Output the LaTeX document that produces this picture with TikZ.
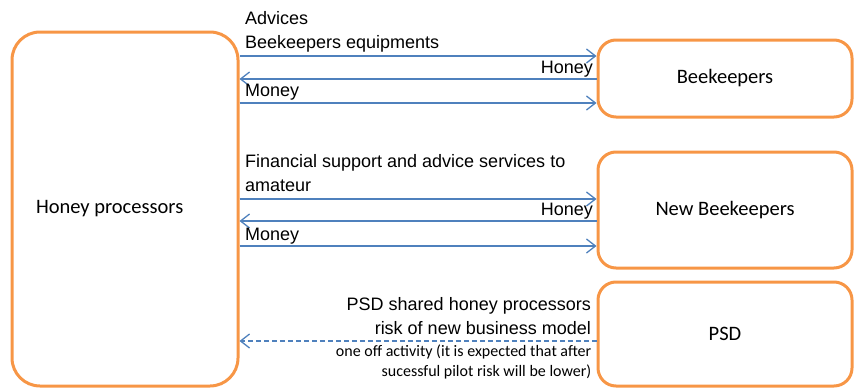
\documentclass[tikz,border=0pt]{standalone}
\usepackage{fontspec}
\setmainfont{Liberation Sans}
\newfontfamily\calibri{Carlito}
\usetikzlibrary{arrows.meta,positioning}

\definecolor{boxorange}{HTML}{F79646}
\definecolor{flowblue}{HTML}{4F81BD}

\begin{document}
\begin{tikzpicture}[x=1pt, y=-1pt,
    actor/.style={draw=boxorange, line width=3pt, rounded corners=18pt, font=\fontsize{20.5}{24}\calibri},
    flow/.style={draw=flowblue, line width=1.3pt, -{Straight Barb[length=9pt,width=14pt,line width=1.3pt]}},
    lbl/.style={font=\fontsize{18}{24}\selectfont, inner sep=0pt},
    note/.style={font=\fontsize{16}{20}\calibri, inner sep=0pt, align=right},
]
\useasboundingbox (0,0) rectangle (854,388);

% Actors
\node[actor, rounded corners=28pt, minimum width=226pt, minimum height=354pt] (proc) at (125,209) {\makebox[178pt][l]{Honey processors}};
\node[actor, minimum width=254pt, minimum height=77pt] (bk) at (725,78.5) {Beekeepers};
\node[actor, minimum width=254pt, minimum height=116pt] (nbk) at (725,210) {New Beekeepers};
\node[actor, minimum width=254pt, minimum height=104pt] (psd) at (725,334) {PSD};

% Beekeepers exchanges
\draw[flow] (proc.east |- 0,56) -- node[lbl, pos=0, anchor=south west, xshift=5pt, yshift=2.7pt, align=left] {Advices\\Beekeepers equipments} (bk.west |- 0,56);
\draw[flow] (bk.west |- 0,79) -- node[lbl, pos=0, anchor=south east, xshift=-3pt, yshift=0.8pt] {Honey} (proc.east |- 0,79);
\draw[flow] (proc.east |- 0,103) -- node[lbl, pos=0, anchor=south west, xshift=5pt, yshift=1.7pt] {Money} (bk.west |- 0,103);

% New beekeepers exchanges
\draw[flow] (proc.east |- 0,199) -- node[lbl, pos=0, anchor=south west, xshift=5pt, yshift=6.5pt, align=left] {Financial support and advice services to\\amateur} (nbk.west |- 0,199);
\draw[flow] (nbk.west |- 0,221) -- node[lbl, pos=0, anchor=south east, xshift=-3pt, yshift=0.8pt] {Honey} (proc.east |- 0,221);
\draw[flow] (proc.east |- 0,246) -- node[lbl, pos=0, anchor=south west, xshift=5pt, yshift=0.8pt] {Money} (nbk.west |- 0,246);

% PSD risk sharing
\draw[flow, dash pattern=on 5pt off 3pt] (psd.west |- 0,341) -- node[lbl, pos=0, anchor=south east, xshift=-5pt, yshift=5.5pt, align=right] {PSD shared honey processors\\risk of new business model} (proc.east |- 0,341);
\node[note, anchor=north east, xshift=-5pt, yshift=-3.5pt] (risk) at (psd.west |- 0,341) {one off activity (it is expected that after\\sucessful pilot risk will be lower)};
\end{tikzpicture}
\end{document}
